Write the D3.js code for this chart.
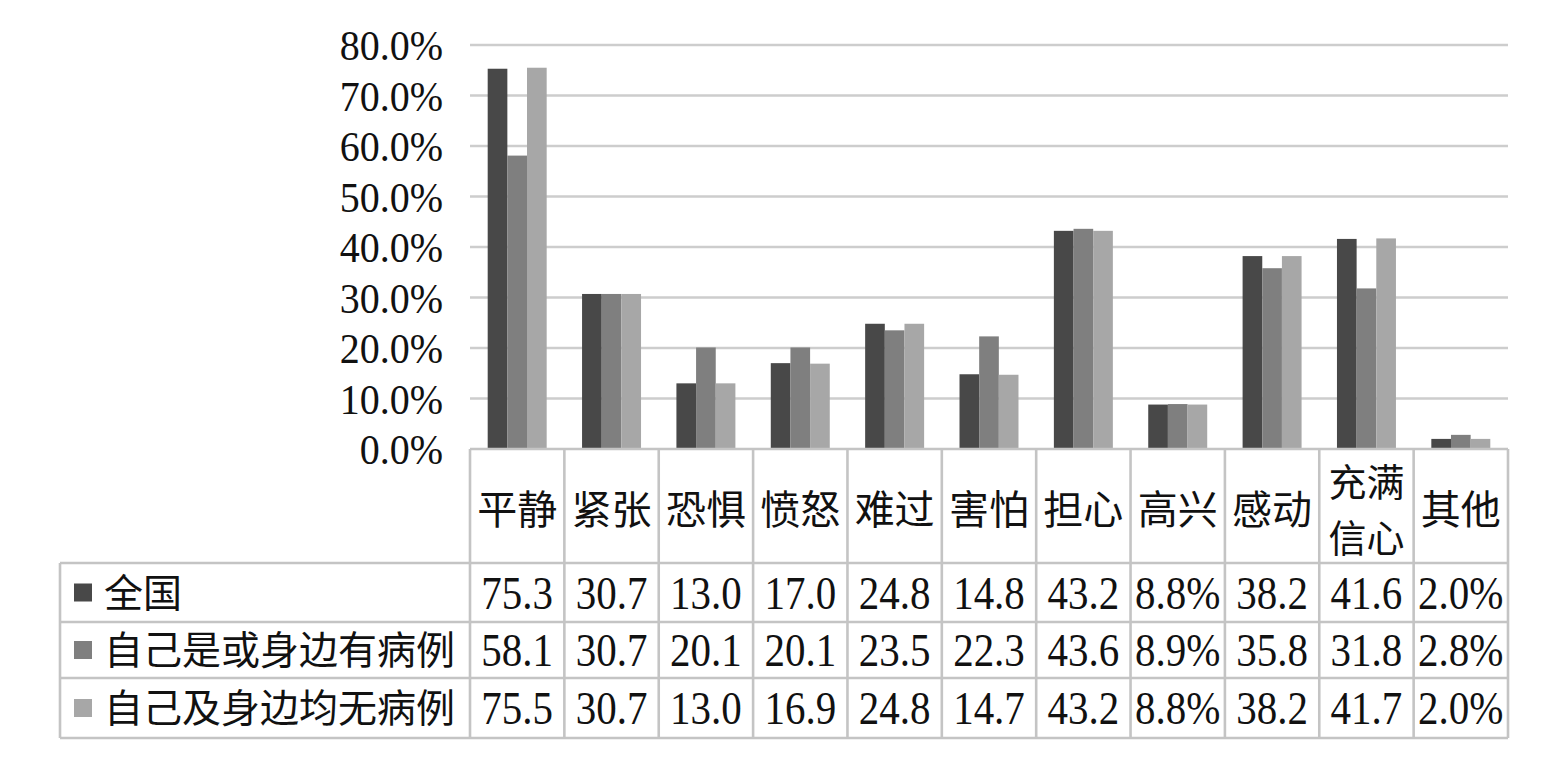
<!DOCTYPE html>
<html><head><meta charset="utf-8">
<script src="https://cdn.jsdelivr.net/npm/d3@7"></script>
<style>
html,body{margin:0;padding:0;background:#fff;}
svg{display:block;}
</style></head>
<body>
<svg id="chart" width="1547" height="757"></svg>
<script>
const categories = ["平静","紧张","恐惧","愤怒","难过","害怕","担心","高兴","感动","充满\n信心","其他"];
const seriesNames = ["全国","自己是或身边有病例","自己及身边均无病例"];
const nationalValues = [75.3,30.7,13.0,17.0,24.8,14.8,43.2,8.8,38.2,41.6,2.0];
const withCaseValues = [58.1,30.7,20.1,20.1,23.5,22.3,43.6,8.9,35.8,31.8,2.8];
const noCaseValues   = [75.5,30.7,13.0,16.9,24.8,14.7,43.2,8.8,38.2,41.7,2.0];
const tickValues = [0,10,20,30,40,50,60,70,80];
const tickLabels = ["0.0%","10.0%","20.0%","30.0%","40.0%","50.0%","60.0%","70.0%","80.0%"];
const seriesColors = ["#484848","#7f7f7f","#a7a7a7"];

const series = [nationalValues, withCaseValues, noCaseValues];
const svg = d3.select("#chart");

const plotLeft = 470, plotRight = 1508, y0 = 449, yTop = 45;
const x = d3.scaleBand().domain(categories).range([plotLeft, plotRight]).paddingInner(0.375).paddingOuter(0.1875);
const xCol = d3.scaleBand().domain(categories).range([plotLeft, plotRight]);
const xs = d3.scaleBand().domain(d3.range(series.length)).range([0, x.bandwidth()]);
const y = d3.scaleLinear().domain([0, 80]).range([y0, yTop]);

const gridColor = "#cdcdcd", tableColor = "#c4c4c4";
const serif = "'Liberation Serif','Times New Roman',serif";
const cjk = "'Noto Sans CJK SC','Noto Sans CJK JP',sans-serif";

// gridlines
svg.append("g").selectAll("line").data(tickValues.filter(d=>d>0)).join("line")
  .attr("x1", plotLeft).attr("x2", plotRight)
  .attr("y1", d=>y(d)).attr("y2", d=>y(d))
  .attr("stroke", gridColor).attr("stroke-width", 2.6);

// y axis labels
svg.append("g").selectAll("text").data(tickValues).join("text")
  .attr("transform", d=>`translate(443,${y(d)}) scale(1,1.08)`).attr("dy", "0.35em")
  .attr("text-anchor", "end")
  .style("font-family", serif).style("font-size", "40px").attr("fill", "#111")
  .text((d,i)=>tickLabels[i]);

// bars
series.forEach((vals, si) => {
  svg.append("g").selectAll("rect").data(vals).join("rect")
    .attr("x", (d,i)=>x(categories[i]) + xs(si))
    .attr("width", xs.bandwidth())
    .attr("y", d=>y(d))
    .attr("height", d=>y0 - y(d))
    .attr("fill", seriesColors[si]);
});

// table
const headerBottom = 563;
const rowBounds = [563, 622, 678, 738];
const tableLeft = 60;
const tg = svg.append("g").attr("stroke", tableColor).attr("stroke-width", 2.6);
tg.append("line").attr("x1", plotLeft).attr("x2", plotRight).attr("y1", y0).attr("y2", y0);
rowBounds.forEach(r => tg.append("line").attr("x1", tableLeft).attr("x2", plotRight).attr("y1", r).attr("y2", r));
const colEdges = categories.map(c => xCol(c)).concat([plotRight]);
colEdges.forEach(cx => tg.append("line").attr("x1", cx).attr("x2", cx).attr("y1", y0).attr("y2", rowBounds[3]));
tg.append("line").attr("x1", tableLeft).attr("x2", tableLeft).attr("y1", rowBounds[0]).attr("y2", rowBounds[3]);

// category header labels
categories.forEach(c => {
  const lines = c.split("\n");
  const cx = xCol(c) + xCol.bandwidth()/2;
  const cy = (y0 + headerBottom)/2 + 4;
  const fs = lines.length > 1 ? 38 : 40;
  const lh = 56;
  lines.forEach((ln, li) => {
    svg.append("text").attr("x", cx)
      .attr("y", cy + (li - (lines.length-1)/2)*lh).attr("dy", "0.36em")
      .attr("text-anchor", "middle")
      .style("font-family", cjk).style("font-size", fs + "px").attr("fill", "#111")
      .text(ln);
  });
});

// legend column and values
const fmt = v => v < 10 ? v.toFixed(1) + "%" : v.toFixed(1);
series.forEach((vals, si) => {
  const cy = (rowBounds[si] + rowBounds[si+1]) / 2;
  svg.append("rect").attr("x", 74).attr("y", cy - 9).attr("width", 18).attr("height", 18)
    .attr("fill", seriesColors[si]);
  svg.append("text").attr("x", 104).attr("y", cy).attr("dy", "0.36em")
    .style("font-family", cjk).style("font-size", "39px").attr("fill", "#111")
    .text(seriesNames[si]);
  svg.append("g").selectAll("text").data(vals).join("text")
    .attr("transform", (d,i)=>`translate(${xCol(categories[i]) + xCol.bandwidth()/2},${cy}) scale(1,1.12)`)
    .attr("dy", "0.35em").attr("text-anchor", "middle")
    .style("font-family", serif).style("font-size", "41px").attr("fill", "#111")
    .text(d=>fmt(d));
});
</script>
</body></html>
